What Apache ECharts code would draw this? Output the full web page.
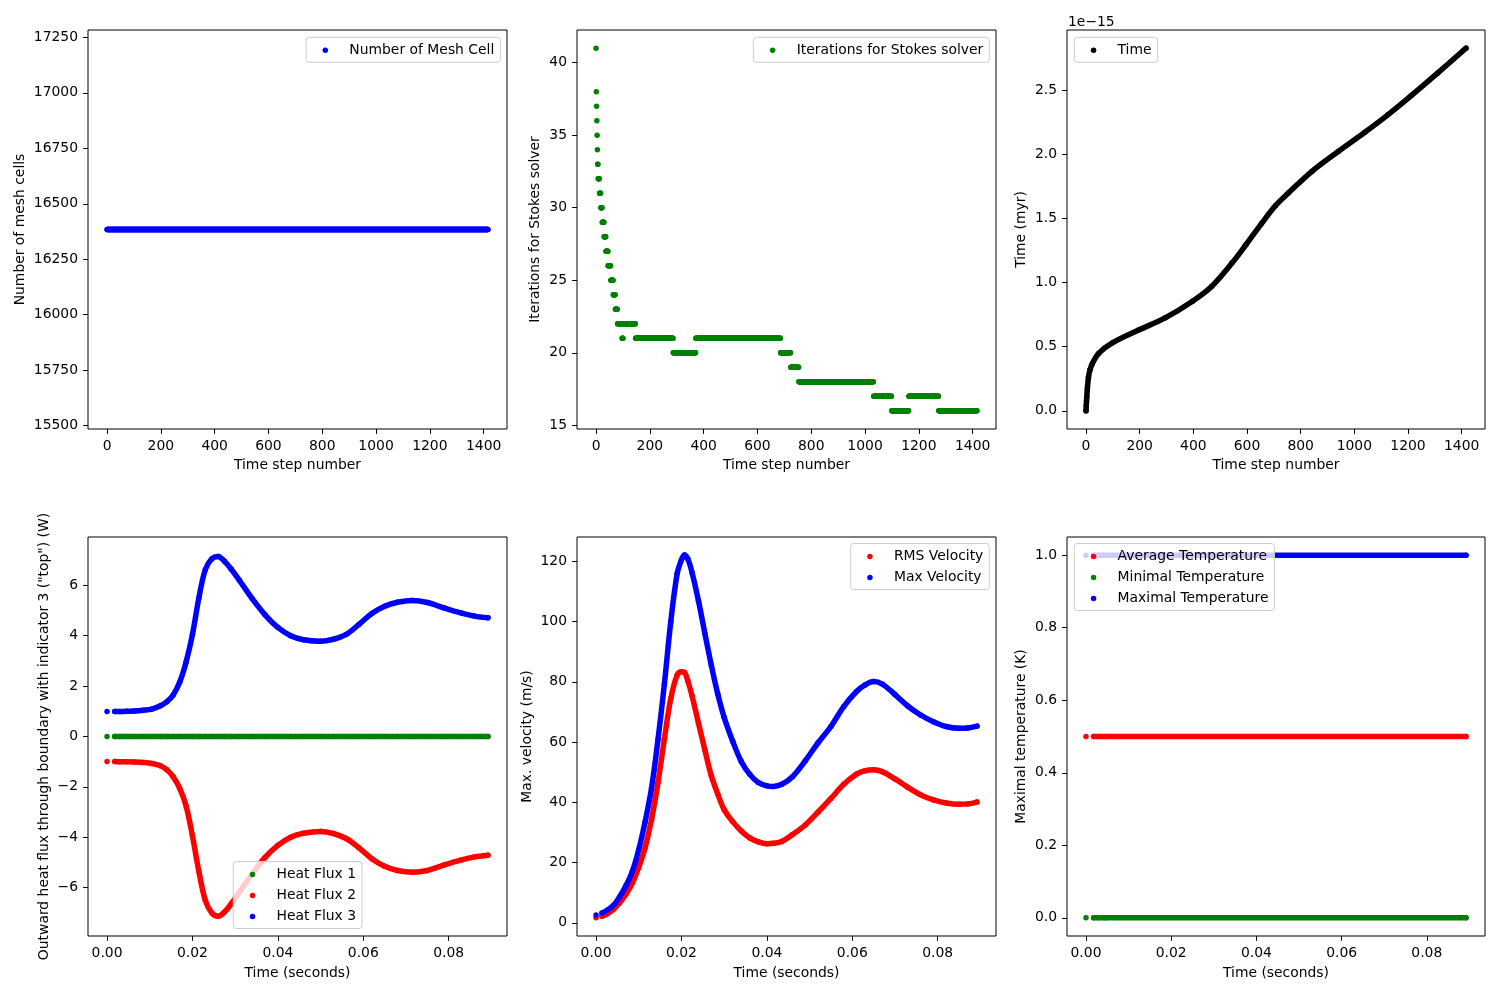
<!DOCTYPE html>
<html><head><meta charset="utf-8">
<script src="https://cdn.jsdelivr.net/npm/echarts@6/dist/echarts.min.js"></script>
<style>html,body{margin:0;padding:0;background:#fff}#c{width:1500px;height:1000px}</style>
</head><body><div id="c"></div>
<script>
// ================= DATA =================
// Panel 1: number of mesh cells per time step (run-length: first step, last step, value)
const stepTicks = [0, 200, 400, 600, 800, 1000, 1200, 1400];
const meshTicks = [15500, 15750, 16000, 16250, 16500, 16750, 17000, 17250];
const meshRunStart = [0];
const meshRunEnd = [1416];
const meshRunValue = [16384];

// Panel 2: Stokes solver iterations per time step (run-length encoded)
const stokesTicks = [15, 20, 25, 30, 35, 40];
const stokesRunStart = [0,1,2,3,4,5,6,8,13,18,23,30,37,45,55,64,72,80,97,101,147,287,371,686,724,754,1032,1099,1163,1274];
const stokesRunEnd   = [0,1,2,3,4,5,7,12,17,22,29,36,44,54,63,71,79,96,100,146,286,370,685,723,753,1031,1098,1162,1273,1416];
const stokesRunValue = [41,38,37,36,35,34,33,32,31,30,29,28,27,26,25,24,23,22,21,22,21,20,21,20,19,18,17,16,17,16];

// Panel 3: model time vs step (values in units of 1e-15 myr)
const timeTicks = [0, 0.5, 1.0, 1.5, 2.0, 2.5];
const timeSteps  = [0, 1, 2, 3, 5, 9, 15, 24, 48, 98, 196, 295, 397, 468, 543, 596, 654, 706, 755, 841, 940, 1039, 1126, 1212, 1311, 1416];
const timeValues = [0, 0.04, 0.08, 0.11, 0.17, 0.26, 0.32, 0.37, 0.45, 0.53, 0.63, 0.725, 0.855, 0.97, 1.15, 1.295, 1.46, 1.60, 1.70, 1.866, 2.022, 2.172, 2.310, 2.458, 2.635, 2.828];

// Panel 4: heat flux through boundaries
const secondsTicks = [0, 0.02, 0.04, 0.06, 0.08];
const fluxTicks = [-6, -4, -2, 0, 2, 4, 6];
const fluxTime  = [0, 0.0018, 0.0030, 0.0045, 0.0065, 0.0085, 0.0105, 0.0125, 0.0140, 0.0155, 0.0170, 0.0185, 0.0200, 0.0215, 0.0230, 0.0245, 0.0260, 0.0275, 0.0290, 0.0310, 0.0340, 0.0370, 0.0400, 0.0430, 0.0460, 0.0500, 0.0530, 0.0560, 0.0590, 0.0620, 0.0650, 0.0680, 0.0715, 0.0750, 0.0790, 0.0830, 0.0860, 0.0892];
const heatFlux1 = [0,0,0,0,0,0,0,0,0,0,0,0,0,0,0,0,0,0,0,0,0,0,0,0,0,0,0,0,0,0,0,0,0,0,0,0,0,0];
const heatFlux2 = [-0.99,-0.99,-1.00,-1.00,-1.01,-1.03,-1.07,-1.16,-1.32,-1.60,-2.05,-2.75,-3.95,-5.35,-6.50,-7.00,-7.14,-6.97,-6.66,-6.18,-5.45,-4.80,-4.32,-4.00,-3.84,-3.77,-3.85,-4.05,-4.42,-4.85,-5.15,-5.32,-5.39,-5.32,-5.10,-4.90,-4.78,-4.71];
const heatFlux3 = [0.99,0.99,0.99,1.00,1.01,1.04,1.09,1.22,1.38,1.65,2.15,2.95,4.05,5.50,6.62,7.05,7.15,6.96,6.66,6.20,5.47,4.83,4.33,4.00,3.84,3.78,3.86,4.05,4.45,4.88,5.17,5.33,5.40,5.32,5.10,4.90,4.78,4.71];

// Panel 5: velocities
const velTicks = [0, 20, 40, 60, 80, 100, 120];
const velTime = [0, 0.0014, 0.0026, 0.0040, 0.0055, 0.0070, 0.0085, 0.0100, 0.0115, 0.0130, 0.0145, 0.0160, 0.0175, 0.0190, 0.0200, 0.0207, 0.0215, 0.0225, 0.0240, 0.0255, 0.0270, 0.0285, 0.0300, 0.0320, 0.0340, 0.0360, 0.0380, 0.0400, 0.0415, 0.0435, 0.0460, 0.0490, 0.0520, 0.0550, 0.0580, 0.0610, 0.0630, 0.0650, 0.0670, 0.0700, 0.0730, 0.0760, 0.0790, 0.0820, 0.0850, 0.0870, 0.0892];
const rmsVelocity = [1.66, 2.2, 3.0, 4.4, 6.6, 9.5, 13.2, 18.4, 25.0, 34.3, 46.5, 61.0, 74.5, 82.3, 83.4, 83.2, 80.3, 75.3, 66.2, 57.3, 48.8, 42.8, 37.6, 33.6, 30.5, 28.2, 26.9, 26.3, 26.4, 27.0, 29.3, 32.5, 36.8, 41.3, 46.0, 49.4, 50.5, 50.8, 50.2, 47.8, 45.0, 42.5, 40.8, 39.8, 39.4, 39.5, 40.1];
const maxVelocity = [2.65, 3.3, 4.2, 5.7, 8.6, 12.3, 17.1, 24.3, 33.6, 44.8, 60.8, 79.2, 100.0, 116.0, 120.5, 122.1, 120.8, 116.2, 106.8, 96.0, 85.5, 76.0, 68.2, 60.3, 53.6, 49.3, 46.6, 45.5, 45.3, 46.0, 48.5, 53.8, 59.8, 65.2, 71.8, 76.8, 79.0, 80.1, 79.3, 75.8, 72.0, 69.0, 66.8, 65.2, 64.6, 64.7, 65.3];

// Panel 6: temperatures
const tempTicks = [0, 0.2, 0.4, 0.6, 0.8, 1.0];
const tempTime = [0, 0.0018, 0.0030, 0.0045, 0.0892];
const avgTemp = [0.5, 0.5, 0.5, 0.5, 0.5];
const minTemp = [0, 0, 0, 0, 0];
const maxTemp = [1, 1, 1, 1, 1];

// ================= CHART =================
const FONT = 'DejaVu Sans';
const FS = 13.9;
const BLUE = '#0000ff', GREEN = '#008000', RED = '#ff0000', BLACK = '#000000';

const gridBoxes = [
  {left: 88, top: 30, width: 419, height: 399},
  {left: 577, top: 30, width: 419, height: 399},
  {left: 1067, top: 30, width: 418, height: 399},
  {left: 88, top: 537, width: 419, height: 399},
  {left: 577, top: 537, width: 419, height: 399},
  {left: 1067, top: 537, width: 418, height: 399}
];

function axis(o) {
  return {
    type: 'value', gridIndex: o.grid, min: o.min, max: o.max,
    name: o.name, nameLocation: 'middle', nameGap: o.nameGap,
    nameTextStyle: {fontFamily: FONT, fontSize: FS, color: '#000'},
    axisLine: {show: false, onZero: false},
    axisTick: {show: true, inside: false, length: 4.9, customValues: o.ticks, lineStyle: {color: '#000', width: 1}},
    axisLabel: {show: true, margin: o.margin, customValues: o.ticks, formatter: o.fmt,
      fontFamily: FONT, fontSize: FS, color: '#000', padding: o.labelPad || 0},
    splitLine: {show: false}
  };
}
const fInt = v => (v < 0 ? '\u2212' + String(-v) : String(v));
const f1 = v => (v < 0 ? '\u2212' + (-v).toFixed(1) : v.toFixed(1));
const f2 = v => (v < 0 ? '\u2212' + (-v).toFixed(2) : v.toFixed(2));

const stepMin = -70.8, stepMax = 1486.8;
const secMin = -0.00446, secMax = 0.09366;
const YP = [3, 0, 0, 0];

const xAxes = [
  axis({grid: 0, min: stepMin, max: stepMax, ticks: stepTicks, fmt: fInt, name: 'Time step number', nameGap: 29.5, margin: 10}),
  axis({grid: 1, min: stepMin, max: stepMax, ticks: stepTicks, fmt: fInt, name: 'Time step number', nameGap: 29.5, margin: 10}),
  axis({grid: 2, min: stepMin, max: stepMax, ticks: stepTicks, fmt: fInt, name: 'Time step number', nameGap: 29.5, margin: 10}),
  axis({grid: 3, min: secMin, max: secMax, ticks: secondsTicks, fmt: f2, name: 'Time (seconds)', nameGap: 30, margin: 10}),
  axis({grid: 4, min: secMin, max: secMax, ticks: secondsTicks, fmt: f2, name: 'Time (seconds)', nameGap: 30, margin: 10}),
  axis({grid: 5, min: secMin, max: secMax, ticks: secondsTicks, fmt: f2, name: 'Time (seconds)', nameGap: 30, margin: 10})
];
const yAxes = [
  axis({grid: 0, min: 15484.8, max: 17283.2, ticks: meshTicks, fmt: fInt, name: 'Number of mesh cells', nameGap: 61, margin: 10, labelPad: YP}),
  axis({grid: 1, min: 14.75, max: 42.25, ticks: stokesTicks, fmt: fInt, name: 'Iterations for Stokes solver', nameGap: 35, margin: 10, labelPad: YP}),
  axis({grid: 2, min: -0.1414, max: 2.9694, ticks: timeTicks, fmt: f1, name: 'Time (myr)', nameGap: 39, margin: 10, labelPad: YP}),
  axis({grid: 3, min: -7.92, max: 7.92, ticks: fluxTicks, fmt: fInt, name: 'Outward heat flux through boundary with indicator 3 ("top") (W)', nameGap: 37, margin: 10, labelPad: YP}),
  axis({grid: 4, min: -4.36, max: 128.1, ticks: velTicks, fmt: fInt, name: 'Max. velocity (m/s)', nameGap: 43, margin: 10, labelPad: YP}),
  axis({grid: 5, min: -0.05, max: 1.05, ticks: tempTicks, fmt: f1, name: 'Maximal temperature (K)', nameGap: 39, margin: 10, labelPad: YP})
];

function expandRuns(starts, ends, values) {
  const pts = [];
  for (let r = 0; r < starts.length; r++)
    for (let s = starts[r]; s <= ends[r]; s++) pts.push([s, values[r]]);
  return pts;
}
function dots(name, idx, pts, color) {
  return {type: 'scatter', name, xAxisIndex: idx, yAxisIndex: idx, data: pts,
    symbol: 'circle', symbolSize: 5.5, itemStyle: {color, opacity: 1}, silent: true, large: false};
}
function band(name, idx, xs, ys, color, from) {
  const pts = [];
  for (let i = from; i < xs.length; i++) pts.push([xs[i], ys[i]]);
  return {type: 'line', name: name + ' \u00a0band', xAxisIndex: idx, yAxisIndex: idx, data: pts,
    showSymbol: false, symbol: 'none', smooth: 0.35,
    lineStyle: {color, width: 5.5, cap: 'round', join: 'round'}, itemStyle: {color}, silent: true};
}
function curve(name, idx, xs, ys, color, from) {
  return [dots(name, idx, xs.map((x, i) => [x, ys[i]]), color), band(name, idx, xs, ys, color, from)];
}

const series = [
  dots('Number of Mesh Cell', 0, expandRuns(meshRunStart, meshRunEnd, meshRunValue), BLUE),
  dots('Iterations for Stokes solver', 1, expandRuns(stokesRunStart, stokesRunEnd, stokesRunValue), GREEN),
  ...curve('Time', 2, timeSteps, timeValues, BLACK, 0),
  ...curve('Heat Flux 1', 3, fluxTime, heatFlux1, GREEN, 1),
  ...curve('Heat Flux 2', 3, fluxTime, heatFlux2, RED, 1),
  ...curve('Heat Flux 3', 3, fluxTime, heatFlux3, BLUE, 1),
  ...curve('RMS Velocity', 4, velTime, rmsVelocity, RED, 1),
  ...curve('Max Velocity', 4, velTime, maxVelocity, BLUE, 1),
  ...curve('Average Temperature', 5, tempTime, avgTemp, RED, 1),
  ...curve('Minimal Temperature', 5, tempTime, minTemp, GREEN, 1),
  ...curve('Maximal Temperature', 5, tempTime, maxTemp, BLUE, 1)
];

function legend(names, pos) {
  return Object.assign({
    orient: 'vertical', align: 'left',
    data: names.map(n => ({name: n, icon: 'circle'})),
    itemWidth: 38, itemHeight: 5.5, itemGap: 7,
    padding: [6, 6, 5, 16.5],
    backgroundColor: 'rgba(255,255,255,0.8)', borderColor: '#cccccc', borderWidth: 1, borderRadius: 3,
    textStyle: {fontFamily: FONT, fontSize: FS, color: '#000', lineHeight: 14},
    selectedMode: false
  }, pos);
}

const option = {
  animation: false,
  backgroundColor: '#ffffff',
  textStyle: {fontFamily: FONT},
  grid: gridBoxes.map(g => Object.assign({show: true, borderColor: '#000', borderWidth: 1, backgroundColor: 'transparent', containLabel: false}, g)),
  xAxis: xAxes,
  yAxis: yAxes,
  legend: [
    legend(['Number of Mesh Cell'], {right: 999.7, top: 37.3}),
    legend(['Iterations for Stokes solver'], {right: 510.7, top: 37.3}),
    legend(['Time'], {left: 1074.3, top: 37.3}),
    legend(['Heat Flux 1', 'Heat Flux 2', 'Heat Flux 3'], {left: 233.3, top: 861.5}),
    legend(['RMS Velocity', 'Max Velocity'], {right: 510.7, top: 543.5}),
    legend(['Average Temperature', 'Minimal Temperature', 'Maximal Temperature'], {left: 1074.3, top: 543.5})
  ],
  graphic: [
    {type: 'text', left: 1068, top: 15, style: {text: '1e\u221215', font: FS + 'px "DejaVu Sans"', fill: '#000'}}
  ],
  series
};

const chart = echarts.init(document.getElementById('c'), null, {renderer: 'canvas'});
chart.setOption(option);
</script>
</body></html>
